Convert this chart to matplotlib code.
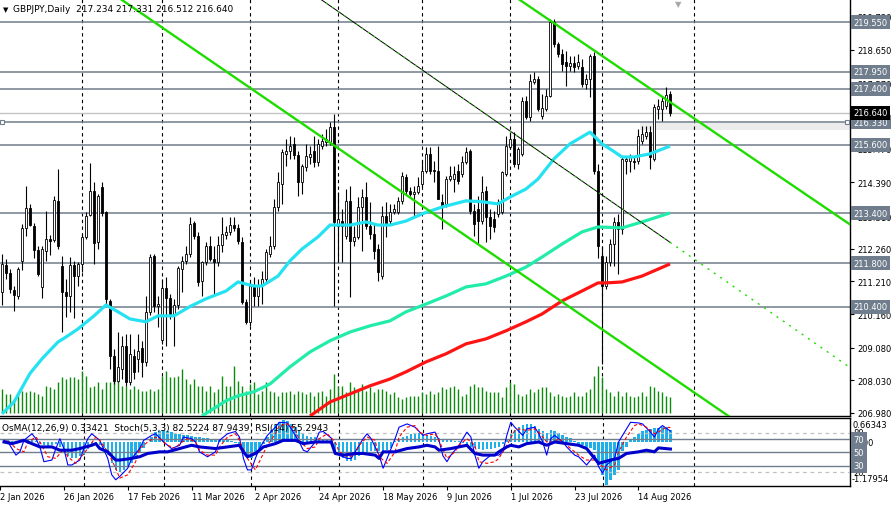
import matplotlib
matplotlib.use("Agg")
import matplotlib.pyplot as plt
from matplotlib.patches import Rectangle

plt.rcParams['font.family'] = ['DejaVu Sans']
plt.rcParams['font.size'] = 6.5

# ---------------- data ----------------
symbol_title = "GBPJPY,Daily  217.234 217.331 216.512 216.640"
ind_title = "OsMA(12,26,9) 0.33421  Stoch(5,3,3) 82.5224 87.9439  RSI(14) 55.2943"

date_idx = [0, 16, 32, 48, 64, 80, 96, 112, 128, 144, 160]
date_labels = ["2 Jan 2026", "26 Jan 2026", "17 Feb 2026", "11 Mar 2026", "2 Apr 2026",
               "24 Apr 2026", "18 May 2026", "9 Jun 2026", "1 Jul 2026", "23 Jul 2026",
               "14 Aug 2026"]
month_start_idx = [21, 41, 63, 85, 106, 128, 151, 174]

bar_idx = list(range(1, 169))
opens = [210.87, 211.74, 211.48, 210.93, 210.74, 211.87, 212.93, 213.57, 212.99, 212.22,
         211.03, 212.19, 212.57, 212.54, 213.80, 211.71, 210.87, 210.74, 211.74, 211.38,
         211.77, 212.64, 213.35, 214.12, 212.48, 214.25, 213.44, 210.58, 208.81, 208.01,
         208.39, 209.13, 207.98, 208.81, 208.72, 209.07, 208.62, 210.23, 212.03, 210.42,
         209.33, 211.00, 210.68, 210.16, 210.45, 211.61, 211.87, 212.09, 213.09, 212.67,
         211.22, 211.83, 212.35, 211.93, 211.83, 212.38, 212.70, 212.80, 213.02, 212.93,
         212.48, 210.55, 209.91, 211.06, 210.74, 211.10, 211.29, 212.09, 212.35, 213.60,
         214.34, 215.31, 215.40, 215.63, 215.27, 214.41, 214.89, 215.21, 215.40, 215.05,
         215.56, 215.69, 215.69, 216.18, 212.99, 213.15, 212.67, 213.80, 212.51, 212.64,
         213.60, 213.92, 212.99, 212.73, 212.25, 211.38, 213.31, 213.15, 213.44, 213.44,
         213.80, 214.57, 214.12, 214.02, 214.09, 214.34, 214.76, 215.31, 214.79, 214.76,
         213.76, 213.70, 214.50, 214.50, 214.76, 214.66, 215.05, 215.40, 213.47, 213.54,
         213.15, 214.12, 213.28, 213.22, 213.38, 213.44, 214.66, 215.53, 215.79, 214.98,
         215.31, 217.01, 216.50, 217.62, 217.72, 216.53, 216.75, 217.17, 219.55, 218.84,
         218.52, 218.26, 218.14, 218.23, 218.14, 218.10, 217.56, 217.72, 218.46, 214.76,
         212.03, 211.06, 211.83, 212.41, 213.12, 212.90, 215.08, 215.08, 215.08, 215.08,
         215.72, 215.89, 216.01, 215.15, 216.75, 216.75, 216.85, 217.234]
highs = [212.09, 211.93, 211.61, 211.06, 211.67, 213.06, 214.28, 213.70, 213.09, 212.35,
         212.35, 213.47, 212.70, 213.96, 214.82, 212.03, 211.29, 212.00, 211.87, 211.83,
         212.73, 213.44, 215.02, 214.41, 214.02, 214.41, 213.47, 210.65, 209.04, 209.58,
         209.46, 209.52, 209.52, 209.04, 209.52, 209.30, 210.74, 212.09, 212.09, 210.74,
         211.29, 211.35, 210.81, 210.65, 211.71, 212.03, 212.35, 213.28, 213.15, 212.80,
         211.87, 212.48, 212.67, 212.35, 212.67, 213.28, 212.99, 213.28, 213.28, 213.06,
         212.64, 210.65, 211.19, 211.35, 211.29, 211.55, 212.25, 212.67, 213.86, 214.73,
         215.47, 215.79, 215.89, 215.85, 215.40, 214.98, 215.63, 215.56, 215.89, 215.79,
         215.95, 216.11, 216.34, 216.59, 214.09, 213.54, 214.18, 214.28, 212.99, 213.92,
         214.18, 214.41, 213.76, 213.06, 212.41, 213.64, 213.76, 213.70, 213.70, 213.92,
         214.73, 214.66, 214.25, 214.28, 214.57, 215.08, 215.53, 215.53, 215.08, 215.56,
         214.02, 214.60, 214.92, 214.92, 214.98, 215.24, 215.53, 215.47, 213.70, 213.96,
         214.60, 214.28, 213.54, 213.47, 213.86, 214.76, 215.89, 216.01, 216.01, 215.53,
         217.14, 217.17, 217.88, 217.94, 217.81, 217.24, 217.40, 219.65, 219.65, 218.91,
         218.68, 218.62, 218.46, 218.46, 218.52, 218.36, 217.88, 218.52, 218.59, 214.98,
         212.35, 212.03, 212.57, 213.28, 213.38, 215.24, 215.24, 215.31, 215.24, 216.11,
         216.21, 216.21, 216.21, 216.91, 217.08, 217.14, 217.46, 217.331]
lows = [210.45, 211.29, 210.84, 210.26, 210.65, 211.58, 212.67, 212.99, 211.96, 211.38,
        210.68, 211.87, 212.06, 212.48, 212.25, 209.58, 210.07, 210.23, 210.03, 211.06,
        211.51, 212.57, 213.31, 211.77, 212.25, 213.31, 210.42, 208.39, 207.91, 207.98,
        208.07, 207.85, 207.88, 208.07, 208.30, 208.14, 208.49, 210.13, 210.23, 209.75,
        209.20, 209.13, 210.00, 209.13, 210.32, 210.87, 211.77, 212.00, 212.57, 211.06,
        210.74, 211.74, 211.87, 210.81, 211.71, 212.16, 212.57, 212.70, 212.83, 212.41,
        210.48, 209.84, 209.78, 210.42, 210.42, 210.48, 211.19, 212.00, 212.25, 213.47,
        213.70, 214.92, 215.15, 215.15, 213.96, 214.02, 214.76, 214.98, 214.89, 214.92,
        215.47, 215.56, 215.60, 210.42, 211.83, 211.83, 212.57, 210.71, 212.35, 212.57,
        212.19, 212.90, 212.57, 211.93, 211.22, 211.29, 212.64, 213.06, 213.38, 213.38,
        213.70, 214.02, 213.96, 213.28, 214.02, 214.25, 214.70, 214.66, 214.41, 213.86,
        212.90, 213.60, 214.44, 214.09, 214.34, 214.57, 214.98, 213.38, 212.67, 212.41,
        213.06, 212.48, 212.57, 212.80, 213.28, 213.38, 214.60, 215.47, 214.89, 214.82,
        215.24, 216.43, 216.37, 217.56, 216.69, 216.43, 216.69, 217.14, 218.75, 218.43,
        217.97, 217.49, 217.97, 217.94, 218.04, 217.46, 217.40, 217.14, 214.66, 211.96,
        208.56, 210.97, 211.71, 211.71, 211.45, 212.73, 214.66, 214.73, 214.82, 214.98,
        215.63, 215.79, 214.82, 215.08, 216.43, 216.37, 216.75, 216.512]
closes = [211.77, 211.48, 210.97, 210.77, 211.61, 212.93, 213.57, 213.02, 212.22, 211.45,
          212.25, 212.57, 212.51, 213.83, 212.35, 210.87, 210.74, 211.74, 211.38, 211.77,
          212.64, 213.31, 214.12, 212.45, 213.96, 213.41, 210.65, 208.81, 208.01, 208.46,
          209.13, 207.98, 208.88, 208.30, 208.97, 208.62, 210.23, 212.00, 210.42, 210.48,
          211.00, 210.68, 210.16, 210.45, 211.64, 211.87, 212.09, 213.06, 212.67, 211.19,
          211.83, 212.35, 211.93, 211.83, 212.38, 212.73, 212.80, 213.02, 212.93, 212.51,
          210.55, 209.91, 211.06, 210.74, 211.10, 211.29, 212.16, 212.35, 213.60, 214.41,
          215.37, 215.40, 215.56, 215.27, 214.41, 214.92, 215.24, 215.31, 215.05, 215.63,
          215.72, 215.79, 216.18, 213.12, 213.22, 212.99, 213.80, 212.51, 212.64, 213.60,
          213.92, 212.99, 212.73, 212.19, 211.51, 213.31, 213.06, 213.44, 213.54, 213.80,
          214.60, 214.12, 214.02, 214.09, 214.28, 214.76, 215.31, 214.76, 214.76, 213.86,
          213.60, 214.50, 214.60, 214.66, 214.44, 215.05, 215.37, 213.47, 213.06, 213.15,
          214.09, 213.28, 212.99, 212.96, 213.76, 214.73, 215.56, 215.79, 214.98, 215.47,
          217.01, 216.50, 217.65, 217.72, 216.75, 216.79, 217.17, 219.55, 218.84, 218.52,
          218.20, 218.14, 218.23, 218.10, 218.26, 217.56, 217.72, 218.46, 214.76, 212.35,
          211.06, 211.83, 212.41, 213.12, 212.90, 215.15, 215.15, 215.21, 215.05, 215.89,
          215.95, 216.01, 215.21, 216.82, 216.85, 217.01, 217.20, 216.640]
volume = [24, 19, 19, 14, 19, 22, 21, 22, 21, 19, 17, 27, 26, 24, 31, 36, 34, 36, 36, 34,
          42, 37, 26, 27, 31, 24, 31, 31, 32, 32, 27, 27,
          24, 27, 24, 22, 22, 24, 22, 24, 37, 42, 36, 36, 37, 44, 34, 29, 34, 27,
          27, 22, 27, 21, 24, 37, 27, 27, 47, 32, 27, 22, 29, 31,
          19, 22, 31, 22, 21, 17, 21, 21, 22, 19, 22, 21, 19, 21, 17, 21, 22, 17, 24, 39,
          27, 27, 21, 31, 26, 24, 29, 22, 26, 21, 24, 24,
          22, 19, 21, 16, 14, 16, 17, 17, 17, 21, 19, 22, 19, 21, 26, 24, 26, 27, 24, 17,
          19, 27, 29, 26, 26, 22, 21, 21, 21, 16, 26, 31, 29, 19, 17,
          19, 24, 21, 24, 26, 26, 21, 17, 19, 17, 16, 17, 21, 17, 17, 21, 24, 37, 47, 36,
          24, 21, 17, 22, 17, 21, 17, 16, 17, 21, 17, 27, 26, 22, 21, 17, 16]

ma_fast_idx = [1, 4, 8, 11, 15, 17, 20, 24, 27, 30, 33, 37, 40, 44, 48, 52, 57, 60, 64, 66,
               70, 73, 76, 80, 83, 88, 92, 95, 98, 102, 106, 111, 117, 121, 125, 128, 132,
               135, 139, 143, 148, 151, 153, 156, 159, 163, 168]
ma_fast = [206.95, 207.33, 208.25, 208.72, 209.26, 209.42, 209.68, 210.10, 210.45, 210.23,
           210.00, 209.91, 210.10, 210.10, 210.40, 210.65, 210.90, 211.19, 211.06, 211.06,
           211.38, 211.87, 212.25, 212.64, 213.02, 213.02, 213.12, 213.02, 213.02, 213.15,
           213.38, 213.60, 213.80, 213.77, 213.70, 213.92, 214.18, 214.50, 215.15, 215.63,
           216.01, 215.63, 215.47, 215.21, 215.21, 215.31, 215.56]
ma_mid_idx = [51, 57, 60, 64, 68, 73, 78, 83, 88, 93, 98, 102, 107, 112, 117, 122, 127, 132,
              136, 141, 146, 150, 156, 161, 168]
ma_mid = [206.88, 207.37, 207.53, 207.66, 207.91, 208.46, 208.94, 209.30, 209.58, 209.78,
          209.94, 210.23, 210.48, 210.74, 211.03, 211.13, 211.38, 211.67, 211.99, 212.41,
          212.80, 212.96, 212.93, 213.12, 213.41]
ma_slow_idx = [78, 83, 88, 93, 98, 102, 107, 112, 117, 122, 127, 132, 136, 141, 146, 150,
               152, 156, 161, 168]
ma_slow = [206.88, 207.33, 207.59, 207.85, 208.07, 208.30, 208.62, 208.88, 209.20, 209.36,
           209.62, 209.91, 210.16, 210.58, 210.90, 211.16, 211.16, 211.19, 211.38, 211.77]

# trend lines: two anchor points (bar index, price)
trend_a = [(32, 220.17), (180, 207.11)]
trend_b = [(134, 219.95), (213, 213.04)]
trend_c = [(97, 218.82), (195, 210.05)]
trend_c_end = 168

levels = [219.55, 217.95, 217.40, 216.33, 215.60, 213.40, 211.80, 210.40]
selected_level = 216.33
bid = 216.640
price_ticks = [206.980, 208.030, 209.080, 210.160, 211.210, 212.260, 213.310, 214.390,
               215.470, 216.520, 217.570, 218.650, 219.730]

osma = [0.047, 0.065, 0.047, 0.028, 0.047, 0.065, 0.093, 0.093, 0.047, -0.028,
        -0.065, -0.093, -0.065, -0.047, -0.121, -0.279, -0.372, -0.419, -0.419, -0.372,
        -0.326, -0.186, -0.093, -0.047, -0.065, -0.140, -0.326, -0.558, -0.744, -0.791,
        -0.744, -0.651, -0.558, -0.419, -0.279, -0.140, 0.010, 0.158, 0.279, 0.307,
        0.326, 0.307, 0.279, 0.233, 0.233, 0.214, 0.214, 0.186, 0.158, 0.140,
        0.121, 0.112, 0.093, 0.084, 0.074, 0.065, 0.056, 0.047, -0.005, -0.093,
        -0.233, -0.372, -0.419, -0.326, -0.186, -0.047, 0.140, 0.326, 0.465, 0.558,
        0.605, 0.586, 0.512, 0.419, 0.326, 0.233, 0.186, 0.158, 0.140, 0.121,
        0.093, 0.084, 0.074, -0.233, -0.326, -0.419, -0.512, -0.512, -0.465, -0.372,
        -0.326, -0.279, -0.233, -0.233, -0.233, -0.251, -0.214, -0.140, 0.047, 0.093,
        0.140, 0.186, 0.233, 0.251, 0.251, 0.233, 0.214, 0.186, 0.158, 0.121,
        0.093, 0.084, 0.074, 0.047, 0.028, -0.005, -0.047, -0.121, -0.158, -0.186,
        -0.195, -0.186, -0.177, -0.158, -0.121, -0.028, 0.093, 0.233, 0.326, 0.419,
        0.465, 0.493, 0.493, 0.437, 0.372, 0.307, 0.251, 0.326, 0.307, 0.251,
        0.214, 0.158, 0.121, 0.047, -0.028, -0.074, -0.121, -0.158, -0.214, -0.605,
        -0.884, -1.150, -1.023, -0.884, -0.744, -0.233, -0.121, 0.093, 0.158, 0.233,
        0.307, 0.344, 0.363, 0.391, 0.400, 0.419, 0.419, 0.334]
osma_max, osma_min = 0.66343, -1.17954

stoch_idx = [1, 2, 3, 4, 5, 6, 8, 9, 10, 11, 13, 14, 15, 16, 17, 18, 20, 21, 22, 23,
             24, 25, 27, 28, 29, 30, 32, 33, 35, 36, 38, 39, 41, 43, 45, 46, 48, 49, 50, 52,
             54, 55, 57, 59, 60, 61, 62, 63, 64, 65, 67, 69, 70, 72, 73, 75, 76, 77, 79, 80,
             81, 83, 84, 85, 87, 88, 89, 91, 92, 93, 95, 96, 97, 99, 100, 102, 104, 106, 107, 109,
             110, 111, 112, 113, 115, 116, 117, 118, 119, 120, 121, 123, 125, 126, 127, 128, 129, 131, 132, 134,
             135, 136, 137, 138, 139, 141, 142, 144, 145, 147, 149, 150, 151, 152, 154, 155, 157, 158, 160, 161,
             163, 164, 165, 166, 168]
stoch_main = [68.5, 66, 56, 46, 51, 68.5, 78.5, 71, 58.5, 36,
              38.5, 56, 71, 56, 31, 31, 38.5, 56, 71, 78.5,
              73.5, 68.5, 41, 16, 8.5, 13.5, 26, 41, 56, 68.5,
              76, 78.5, 66, 56, 61, 73.5, 71, 66, 51, 43.5,
              51, 68.5, 78.5, 82, 73.5, 41, 23.5, 23.5, 41, 56,
              76, 88.5, 96, 95, 86, 66, 53.5, 51, 66, 81,
              82, 72, 51, 46, 41, 41, 51, 71, 78.5, 71,
              46, 26, 41, 71, 88.5, 93.5, 88.5, 76, 78.5, 81,
              68.5, 45, 36, 46, 61, 71, 81, 73.5, 46, 26,
              36, 46, 46, 51, 76, 96, 88.5, 76, 86, 88.5,
              78.5, 66, 46, 71, 76, 66, 58.5, 46, 43.5, 31,
              46, 28.5, 18.5, 31, 41, 66, 86, 96, 95, 93.5,
              81, 73.5, 86, 91, 82.52]
signal_idx = [1, 2, 4, 6, 7, 9, 10, 12, 14, 16, 17, 19, 20, 22, 24, 25, 27, 29, 30, 32,
              34, 35, 37, 39, 40, 42, 44, 45, 47, 49, 50, 52, 54, 55, 57, 59, 60, 62, 64, 65,
              67, 69, 70, 72, 74, 75, 77, 79, 80, 82, 84, 85, 87, 89, 90, 92, 94, 95, 97, 99,
              100, 102, 104, 105, 107, 109, 110, 112, 114, 115, 117, 119, 120, 122, 124, 125, 127, 129, 130, 132,
              134, 135, 137, 139, 140, 142, 144, 145, 147, 149, 150, 152, 154, 155, 157, 159, 160, 162, 164, 165,
              167, 168]
stoch_signal = [66, 68.5, 56, 51, 66, 73.5, 66, 43.5, 41, 56,
                43.5, 33.5, 41, 56, 73.5, 68.5, 51, 26, 11, 16,
                36, 56, 66, 73.5, 71, 61, 56, 63.5, 71, 66,
                53.5, 46, 46, 58.5, 73.5, 78.5, 68.5, 41, 23.5, 36,
                61, 78.5, 91, 93.5, 86, 68.5, 56, 58.5, 71, 78.5,
                66, 51, 43.5, 46, 61, 73.5, 68.5, 43.5, 33.5, 51,
                73.5, 88.5, 91, 81, 76, 78.5, 68.5, 41, 51, 61,
                71, 61, 36, 33.5, 36, 41, 61, 83.5, 86, 83.5,
                86, 81, 66, 66, 71, 61, 51, 46, 38.5, 38.5,
                33.5, 23.5, 31, 51, 73.5, 91, 93.5, 88.5, 78.5, 81,
                88.5, 87.94]
rsi_idx = [1, 3, 6, 8, 10, 13, 15, 18, 20, 23, 24, 25, 27, 29, 30, 33, 35, 37, 40, 42,
           45, 48, 50, 54, 57, 60, 61, 62, 64, 66, 69, 71, 74, 76, 79, 81, 83, 84, 86, 89,
           91, 94, 95, 96, 99, 102, 105, 107, 109, 110, 113, 115, 117, 119, 121, 124, 125, 127, 128, 130,
           132, 135, 137, 139, 142, 145, 147, 149, 150, 153, 155, 157, 160, 162, 164, 165, 168]
rsi = [66, 63.5, 68.5, 63.5, 58.5, 58.5, 53.5, 53.5, 56, 61,
       63.5, 56, 51, 38.5, 38.5, 41, 43.5, 48.5, 51, 51,
       56, 61, 58.5, 56, 58.5, 61, 51, 43.5, 48.5, 58.5,
       63.5, 68.5, 68.5, 63.5, 66, 66, 66, 48.5, 46, 48.5,
       48.5, 46, 41, 51, 51, 56, 58.5, 61, 58.5, 53.5,
       56, 58.5, 61, 48.5, 46, 46, 51, 58.5, 61, 58.5,
       63.5, 66, 61, 66, 63.5, 61, 56, 41, 33.5, 38.5,
       41, 48.5, 51, 53.5, 51, 57, 55.29]
rsi_levels = [70, 50, 30]
stoch_levels = [80, 20]

# ---------------- styles ----------------
LVL = '#6f7d8c'
GREEN = '#1fdc00'
W, H = 892, 506
XMIN, XMAX = 0.5, 213.0
RFS = 6.0   # right scale font size

fig = plt.figure(figsize=(W / 100, H / 100), dpi=100)
fig.patch.set_facecolor('white')
ax = fig.add_axes([0, 89 / H, 850 / W, 417 / H])
ax2 = fig.add_axes([0, 19 / H, 850 / W, 68 / H])
ax3 = ax2.twinx()

ax.set_xlim(XMIN, XMAX)
ax.set_ylim(206.88, 220.29)

# grid
for g in month_start_idx:
    ax.axvline(g, color='black', lw=0.8, ls=(0, (3, 3)), zorder=1)
    ax2.axvline(g, color='black', lw=0.8, ls=(0, (3, 3)), zorder=1)

# subtle shadow band
ax.add_patch(Rectangle((0.753, 1 - 131 / 417), 0.247, 7 / 417, transform=ax.transAxes,
                       facecolor='#ececec', edgecolor='none', zorder=0.5))

# volumes
xtr = ax.get_xaxis_transform()
ax.vlines(bar_idx, 3 / 417, [(3 + v) / 417 for v in volume], transform=xtr,
          colors='#0c8c0c', linewidth=1.0, zorder=2)

# horizontal levels
for lv in levels:
    ax.axhline(lv, color=LVL, lw=1.1, zorder=2)
ax.axhline(bid, color='#c4c4c4', lw=1.0, zorder=2)
ytr = ax.get_yaxis_transform()
ax.plot([0.002, 0.9965], [selected_level, selected_level], 's', transform=ytr, ms=3.2,
        mfc='white', mec=LVL, mew=0.8, zorder=9, clip_on=False)

# candles
bottoms = [min(o, c) for o, c in zip(opens, closes)]
heights = [max(abs(c - o), 0.012) for o, c in zip(opens, closes)]
fills = ['white' if c >= o else 'black' for o, c in zip(opens, closes)]
ax.vlines(bar_idx, lows, highs, colors='black', linewidth=0.8, zorder=3)
ax.bar(bar_idx, heights, bottom=bottoms, width=0.55, color=fills, edgecolor='black',
       linewidth=0.6, zorder=4)

# moving averages
ax.plot(ma_fast_idx, ma_fast, color='#25e2f2', lw=2.3, zorder=5, solid_capstyle='butt')
ax.plot(ma_mid_idx, ma_mid, color='#22ecaa', lw=2.3, zorder=5, solid_capstyle='butt')
ax.plot(ma_slow_idx, ma_slow, color='#ff1414', lw=2.3, zorder=5, solid_capstyle='butt')


def line_through(anchors, x0, x1):
    (xa, ya), (xb, yb) = anchors
    k = (yb - ya) / (xb - xa)
    return [x0, x1], [ya + k * (x0 - xa), ya + k * (x1 - xa)]


xs, ys = line_through(trend_a, XMIN, XMAX)
ax.plot(xs, ys, color=GREEN, lw=1.7, zorder=6)
xs, ys = line_through(trend_b, XMIN, XMAX)
ax.plot(xs, ys, color=GREEN, lw=1.7, zorder=6)
xs, ys = line_through(trend_c, XMIN, trend_c_end)
ax.plot(xs, ys, color='black', lw=0.7, zorder=6)
ax.plot(xs, ys, color=GREEN, lw=0.8, ls=(0, (1.5, 5)), zorder=6)
xs, ys = line_through(trend_c, trend_c_end, XMAX)
ax.plot(xs, ys, color=GREEN, lw=1.0, ls=(0, (1.5, 4)), zorder=6)

# axes styling
for s in ['top', 'left']:
    ax.spines[s].set_visible(False)
for s in ['right', 'bottom']:
    ax.spines[s].set_color('black')
    ax.spines[s].set_linewidth(1.0)
ax.set_xticks([])
ax.yaxis.tick_right()
ax.set_yticks(price_ticks)
ax.set_yticklabels([f"{t:.3f}" for t in price_ticks])
ax.tick_params(axis='y', direction='out', length=3, width=0.8, pad=2, labelsize=RFS,
               colors='black')


def rlabel(axis, y, s, fc, tc='white'):
    axis.text(1.0042, y, s, transform=axis.get_yaxis_transform(), ha='left', va='center',
              fontsize=RFS, color=tc, zorder=10, clip_on=False,
              bbox=dict(boxstyle='square,pad=0.3', fc=fc, ec='none'))


for lv in levels:
    rlabel(ax, lv, f"{lv:.3f}", LVL)
rlabel(ax, bid, f"{bid:.3f}", 'black')

ax.text(0.0035, 1 - 10 / 417, "\u25BC", transform=ax.transAxes, fontsize=5,
        va='center', ha='left', color='black', zorder=10)
ax.text(13 / 850, 1 - 10 / 417, symbol_title, transform=ax.transAxes, fontsize=6.5,
        va='center', ha='left', color='black', zorder=10)
ax.text(678 / 850, 1.0, "\u25BC", transform=ax.transAxes, fontsize=6, va='top',
        ha='center', color='#a8a8a8', zorder=10)

# ---------------- indicator window ----------------
ax2.set_xlim(XMIN, XMAX)
ax2.set_ylim(osma_min, osma_max)
ax3.set_ylim(-1, 102.5)
ax2.bar(bar_idx, osma, width=0.6, color='#1fb0ea', zorder=2)
for lv in stoch_levels:
    ax3.axhline(lv, color='#c0c0c0', lw=0.9, ls=(0, (3, 3)), zorder=1)
for lv in rsi_levels:
    ax3.axhline(lv, color=LVL, lw=1.0, zorder=1)
ax3.plot(stoch_idx, stoch_main, color='#0000ff', lw=0.8, zorder=3)
ax3.plot(signal_idx, stoch_signal, color='#ff0000', lw=0.8, ls=(0, (3, 2)), zorder=3)
ax3.plot(rsi_idx, rsi, color='#0000cd', lw=2.2, zorder=4)

for s in ['top', 'bottom', 'right']:
    ax2.spines[s].set_color('black')
    ax2.spines[s].set_linewidth(1.0)
ax2.spines['left'].set_visible(False)
for s in ax3.spines.values():
    s.set_visible(False)
ax2.set_yticks([])
ax3.set_yticks([])
ax2.set_xticks(date_idx)
ax2.set_xticklabels(date_labels)
ax2.tick_params(axis='x', direction='out', length=3, width=0.8, pad=1.5, labelsize=6.0)
for lbl in ax2.get_xticklabels():
    lbl.set_horizontalalignment('left')

ax2.text(0.0024, 0.86, ind_title, transform=ax2.transAxes, fontsize=6.5, va='center',
         ha='left', color='black', zorder=10)

ax2.text(1.0035, 0.90, f"{osma_max:.5f}", transform=ax2.transAxes, fontsize=RFS,
         va='center', ha='left', color='black', clip_on=False)
ax2.text(1.0015, 0.115, f"{osma_min:.5f}", transform=ax2.transAxes, fontsize=RFS,
         va='center', ha='left', color='black', clip_on=False)
ax2.text(1.006, 0.0, "0.00", transform=ax2.get_yaxis_transform(), fontsize=RFS,
         va='center', ha='left', color='black', clip_on=False, zorder=5)
for lv in stoch_levels:
    ax3.text(1.0042, lv, f"{lv}", transform=ax3.get_yaxis_transform(), fontsize=RFS,
             va='center', ha='left', color='black', clip_on=False, zorder=5)
for lv in rsi_levels:
    rlabel(ax3, lv, f"{lv}", LVL)

fig.savefig("out.png", dpi=100)
